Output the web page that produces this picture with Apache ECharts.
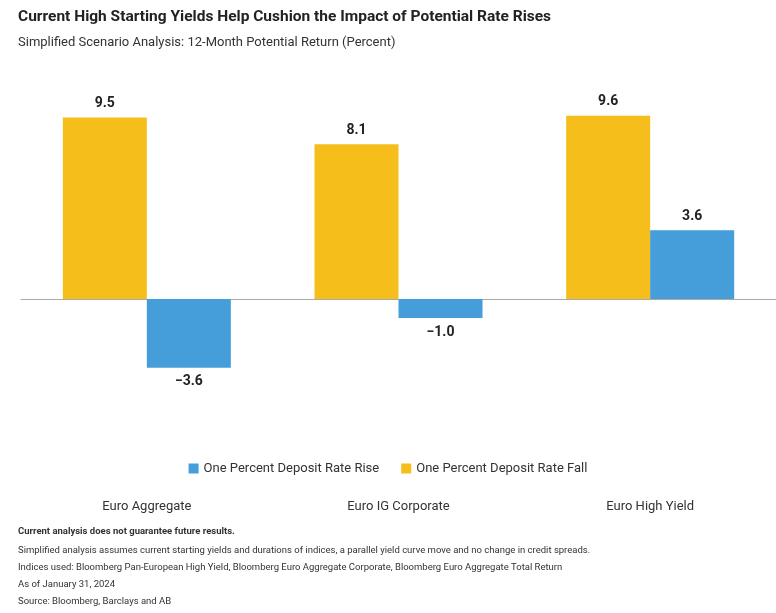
<!DOCTYPE html>
<html><head><meta charset="utf-8">
<script src="https://cdn.jsdelivr.net/npm/echarts@6/dist/echarts.min.js"></script>
<style>html,body{margin:0;padding:0;background:#fff}#c{width:776px;height:613px}</style>
</head><body><div id="c"></div>
<script>
const categories = ['Euro Aggregate', 'Euro IG Corporate', 'Euro High Yield'];
const rateFall = [9.5, 8.1, 9.6];
const rateRise = [-3.6, -1.0, 3.6];
const fmt = v => (v < 0 ? '\u2212' + Math.abs(v).toFixed(1) : v.toFixed(1));
const chart = echarts.init(document.getElementById('c'));
const ff = 'Roboto, "Noto Sans", sans-serif';
const foot = (t, y, bold) => ({ text: t, left: 13, top: y, textStyle: { fontFamily: ff, fontSize: 9.5, fontWeight: bold ? 'bold' : 'normal', color: '#333' } });
const lbl = { show: true, distance: 7, formatter: p => fmt(p.value), fontFamily: ff, fontSize: 14, fontWeight: 'bold', color: '#222' };
chart.setOption({
  animation: false,
  title: [
    { text: 'Current High Starting Yields Help Cushion the Impact of Potential Rate Rises', left: 13, top: 4, textStyle: { fontFamily: ff, fontSize: 15.5, fontWeight: 'bold', color: '#222' } },
    { text: 'Simplified Scenario Analysis: 12-Month Potential Return (Percent)', left: 13, top: 31, textStyle: { fontFamily: ff, fontSize: 13, fontWeight: 'normal', color: '#333' } },
    foot('Current analysis does not guarantee future results.', 522, true),
    foot('Simplified analysis assumes current starting yields and durations of indices, a parallel yield curve move and no change in credit spreads.', 541),
    foot('Indices used: Bloomberg Pan-European High Yield, Bloomberg Euro Aggregate Corporate, Bloomberg Euro Aggregate Total Return', 558),
    foot('As of January 31, 2024', 575),
    foot('Source: Bloomberg, Barclays and AB', 592)
  ],
  legend: {
    data: ['One Percent Deposit Rate Rise', 'One Percent Deposit Rate Fall'],
    top: 457, left: 'center', itemWidth: 10, itemHeight: 10, icon: 'rect', itemGap: 22,
    textStyle: { fontFamily: ff, fontSize: 13, color: '#333' }
  },
  grid: { left: 21, top: 108, width: 760, height: 286.5 },
  xAxis: {
    type: 'category', data: categories,
    axisLine: { lineStyle: { color: '#aaa' } }, axisTick: { show: false },
    axisLabel: { margin: 106, fontFamily: ff, fontSize: 13, color: '#333' }
  },
  yAxis: { type: 'value', min: -5, max: 10, show: false, splitLine: { show: false } },
  series: [
    { name: 'One Percent Deposit Rate Fall', type: 'bar', data: rateFall, barWidth: 84, barGap: '0%', color: '#F6BE1A',
      label: Object.assign({ position: 'top' }, lbl) },
    { name: 'One Percent Deposit Rate Rise', type: 'bar', barWidth: 84, color: '#459DDA',
      data: rateRise.map(v => ({ value: v, label: { position: v < 0 ? 'bottom' : 'top' } })),
      label: Object.assign({}, lbl) }
  ]
});
</script></body></html>
